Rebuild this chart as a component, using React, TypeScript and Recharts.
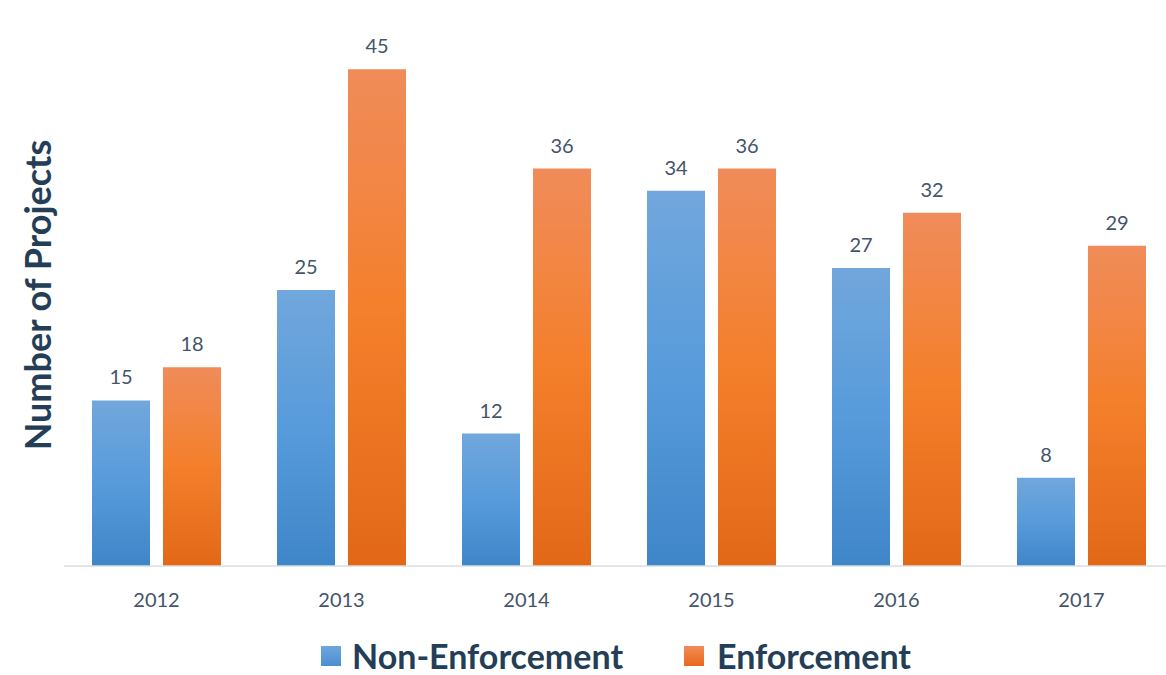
import React from "react";
import { BarChart, Bar, XAxis, YAxis, LabelList, Label } from "recharts";

const years = ["2012", "2013", "2014", "2015", "2016", "2017"];
const nonEnforcement = [15, 25, 12, 34, 27, 8];
const enforcement = [18, 45, 36, 36, 32, 29];
const seriesNames = ["Non-Enforcement", "Enforcement"];

const data = years.map((y, i) => ({
  year: y,
  nonEnforcement: nonEnforcement[i],
  enforcement: enforcement[i],
}));

const FONT = "Lato, 'Open Sans', sans-serif";
const TITLE_COLOR = "#233e56";
const TEXT_COLOR = "#44546a";

const LegendBox = () => (
  <div
    style={{
      position: "absolute",
      top: 638,
      left: 0,
      width: 1166,
      height: 36,
      boxSizing: "border-box",
      display: "flex",
      justifyContent: "center",
      alignItems: "center",
      fontFamily: FONT,
      fontWeight: 700,
      fontSize: 34,
      lineHeight: "36px",
      color: TITLE_COLOR,
      paddingLeft: 66,
    }}
  >
    <div style={{ display: "flex", alignItems: "center", marginRight: 61 }}>
      <div style={{ width: 20, height: 20, background: "linear-gradient(#6fa6dc,#4a8fd2)", marginRight: 11 }} />
      <span>{seriesNames[0]}</span>
    </div>
    <div style={{ display: "flex", alignItems: "center" }}>
      <div style={{ width: 20, height: 20, background: "linear-gradient(#f08c58,#e8691a)", marginRight: 13 }} />
      <span>{seriesNames[1]}</span>
    </div>
  </div>
);

export default function App() {
  return (
    <div
      style={{
        position: "absolute",
        left: 0,
        top: 0,
        width: 1166,
        height: 675,
        overflow: "hidden",
        background: "#fff",
      }}
    >
      <BarChart
        width={1174}
        height={620}
        data={data}
        margin={{ top: 14, right: 0, bottom: 0, left: 0 }}
        barGap={13}
        barSize={58}
      >
        <defs>
          <linearGradient id="gBlue" x1="0" y1="0" x2="0" y2="1">
            <stop offset="0%" stopColor="#71a7dc" />
            <stop offset="50%" stopColor="#579bdb" />
            <stop offset="100%" stopColor="#3f86c8" />
          </linearGradient>
          <linearGradient id="gOrange" x1="0" y1="0" x2="0" y2="1">
            <stop offset="0%" stopColor="#f08c5a" />
            <stop offset="50%" stopColor="#f47f2b" />
            <stop offset="100%" stopColor="#e26817" />
          </linearGradient>
        </defs>
        <XAxis
          dataKey="year"
          axisLine={{ stroke: "#d9dde3", strokeWidth: 1.5 }}
          tickLine={false}
          tick={{ fill: TEXT_COLOR, fontSize: 20, fontFamily: FONT }}
          tickMargin={21}
          height={54}
        />
        <YAxis
          domain={[0, 50]}
          width={64}
          axisLine={false}
          tickLine={false}
          tick={false}
        >
          <Label
            value="Number of Projects"
            angle={-90}
            position="insideLeft"
            offset={38}
            dy={5}
            style={{
              fill: TITLE_COLOR,
              fontSize: 36,
              fontWeight: 700,
              fontFamily: FONT,
              textAnchor: "middle",
            }}
          />
        </YAxis>
        <Bar dataKey="nonEnforcement" fill="url(#gBlue)" isAnimationActive={false}>
          <LabelList
            dataKey="nonEnforcement"
            position="top"
            offset={16}
            style={{ fill: TEXT_COLOR, fontSize: 20, fontFamily: FONT }}
          />
        </Bar>
        <Bar dataKey="enforcement" fill="url(#gOrange)" isAnimationActive={false}>
          <LabelList
            dataKey="enforcement"
            position="top"
            offset={16}
            style={{ fill: TEXT_COLOR, fontSize: 20, fontFamily: FONT }}
          />
        </Bar>
      </BarChart>
      <LegendBox />
    </div>
  );
}
